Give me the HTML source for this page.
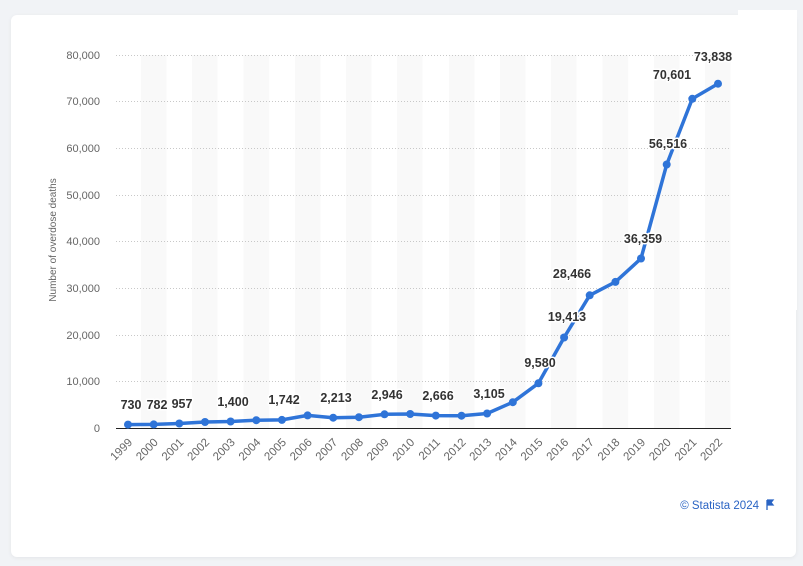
<!DOCTYPE html>
<html><head><meta charset="utf-8"><style>
html,body{margin:0;padding:0;background:#f1f3f6;}
body{width:803px;height:566px;position:relative;overflow:hidden;font-family:"Liberation Sans",sans-serif;}
.card{position:absolute;left:11px;top:15px;width:785px;height:542px;background:#fff;border-radius:6px;box-shadow:0 1px 4px rgba(0,0,0,0.06);}
.box{position:absolute;left:738px;top:10px;width:59px;height:300px;background:#fff;}
svg{position:absolute;left:0;top:0;}
</style></head><body>
<div class="card"></div>
<div class="box"></div>
<svg width="803" height="566" xmlns="http://www.w3.org/2000/svg" font-family="Liberation Sans, sans-serif">
<g fill="#f9f9f9">
<rect x="141" y="55" width="25.6" height="373"/><rect x="192" y="55" width="25.6" height="373"/>
<rect x="243.5" y="55" width="25.6" height="373"/><rect x="295" y="55" width="25.6" height="373"/>
<rect x="346" y="55" width="25.6" height="373"/><rect x="397" y="55" width="25.6" height="373"/>
<rect x="449" y="55" width="25.6" height="373"/><rect x="500" y="55" width="25.6" height="373"/>
<rect x="551" y="55" width="25.6" height="373"/><rect x="602.5" y="55" width="25.6" height="373"/>
<rect x="654" y="55" width="25.6" height="373"/><rect x="705" y="55" width="25.6" height="373"/>
</g>
<g stroke="#c8c8c8" stroke-width="1" stroke-dasharray="1,2">
<line x1="116" x2="731" y1="55.5" y2="55.5"/><line x1="116" x2="731" y1="101.5" y2="101.5"/>
<line x1="116" x2="731" y1="148.5" y2="148.5"/><line x1="116" x2="731" y1="195.5" y2="195.5"/>
<line x1="116" x2="731" y1="241.5" y2="241.5"/><line x1="116" x2="731" y1="288.5" y2="288.5"/>
<line x1="116" x2="731" y1="335.5" y2="335.5"/><line x1="116" x2="731" y1="381.5" y2="381.5"/>
</g>
<line x1="116" x2="731" y1="428.5" y2="428.5" stroke="#222" stroke-width="1"/>
<g font-size="11" fill="#666" text-anchor="end">
<text x="100" y="59">80,000</text><text x="100" y="105">70,000</text><text x="100" y="152">60,000</text>
<text x="100" y="199">50,000</text><text x="100" y="245">40,000</text><text x="100" y="292">30,000</text>
<text x="100" y="339">20,000</text><text x="100" y="385">10,000</text><text x="100" y="432">0</text>
</g>
<text transform="translate(56,240) rotate(-90)" font-size="10" fill="#666" text-anchor="middle">Number of overdose deaths</text>
<polyline fill="none" stroke="#2f74d8" stroke-width="3.5" stroke-linejoin="round" points="128,424.6 153.7,424.4 179.3,423.5 205,422 230.6,421.5 256.3,420.2 281.9,419.9 307.6,415.4 333.2,417.7 358.9,417.2 384.5,414.3 410.2,414 435.8,415.6 461.5,415.7 487.1,413.5 512.8,402.2 538.4,383.3 564.1,337.5 589.7,295.3 615.4,281.9 641,258.5 666.7,164.5 692.3,98.8 718,83.7"/>
<g fill="#2f74d8">
<circle cx="128" cy="424.6" r="4"/><circle cx="153.7" cy="424.4" r="4"/><circle cx="179.3" cy="423.5" r="4"/><circle cx="205" cy="422" r="4"/><circle cx="230.6" cy="421.5" r="4"/><circle cx="256.3" cy="420.2" r="4"/><circle cx="281.9" cy="419.9" r="4"/><circle cx="307.6" cy="415.4" r="4"/><circle cx="333.2" cy="417.7" r="4"/><circle cx="358.9" cy="417.2" r="4"/><circle cx="384.5" cy="414.3" r="4"/><circle cx="410.2" cy="414" r="4"/><circle cx="435.8" cy="415.6" r="4"/><circle cx="461.5" cy="415.7" r="4"/><circle cx="487.1" cy="413.5" r="4"/><circle cx="512.8" cy="402.2" r="4"/><circle cx="538.4" cy="383.3" r="4"/><circle cx="564.1" cy="337.5" r="4"/><circle cx="589.7" cy="295.3" r="4"/><circle cx="615.4" cy="281.9" r="4"/><circle cx="641" cy="258.5" r="4"/><circle cx="666.7" cy="164.5" r="4"/><circle cx="692.3" cy="98.8" r="4"/><circle cx="718" cy="83.7" r="4"/>
</g>
<g font-size="12.5" font-weight="bold" fill="#333" text-anchor="middle" stroke="#fff" stroke-width="3" paint-order="stroke" stroke-linejoin="round">
<text x="131" y="409">730</text><text x="157" y="409">782</text><text x="182" y="408">957</text>
<text x="233" y="406">1,400</text><text x="284" y="404">1,742</text><text x="336" y="402">2,213</text>
<text x="387" y="399">2,946</text><text x="438" y="400">2,666</text><text x="489" y="398">3,105</text>
<text x="540" y="367">9,580</text><text x="567" y="321">19,413</text><text x="572" y="278">28,466</text>
<text x="643" y="243">36,359</text><text x="668" y="148">56,516</text><text x="672" y="79">70,601</text>
<text x="713" y="61">73,838</text>
</g>
<g font-size="11.5" fill="#666" text-anchor="end">
<text transform="translate(133,443) rotate(-45)">1999</text><text transform="translate(158.7,443) rotate(-45)">2000</text><text transform="translate(184.3,443) rotate(-45)">2001</text><text transform="translate(210,443) rotate(-45)">2002</text><text transform="translate(235.6,443) rotate(-45)">2003</text><text transform="translate(261.3,443) rotate(-45)">2004</text><text transform="translate(286.9,443) rotate(-45)">2005</text><text transform="translate(312.6,443) rotate(-45)">2006</text><text transform="translate(338.2,443) rotate(-45)">2007</text><text transform="translate(363.9,443) rotate(-45)">2008</text><text transform="translate(389.5,443) rotate(-45)">2009</text><text transform="translate(415.2,443) rotate(-45)">2010</text><text transform="translate(440.8,443) rotate(-45)">2011</text><text transform="translate(466.5,443) rotate(-45)">2012</text><text transform="translate(492.1,443) rotate(-45)">2013</text><text transform="translate(517.8,443) rotate(-45)">2014</text><text transform="translate(543.4,443) rotate(-45)">2015</text><text transform="translate(569.1,443) rotate(-45)">2016</text><text transform="translate(594.7,443) rotate(-45)">2017</text><text transform="translate(620.4,443) rotate(-45)">2018</text><text transform="translate(646,443) rotate(-45)">2019</text><text transform="translate(671.7,443) rotate(-45)">2020</text><text transform="translate(697.3,443) rotate(-45)">2021</text><text transform="translate(723,443) rotate(-45)">2022</text>
</g>
<text x="759" y="509" font-size="11.5" fill="#2a64c4" text-anchor="end">© Statista 2024</text>
<path d="M767 500 v10 M767 500 h6 l-2 2.5 l2 2.5 h-6" fill="#2a64c4" stroke="#2a64c4" stroke-width="1.3"/>
</svg>
</body></html>
